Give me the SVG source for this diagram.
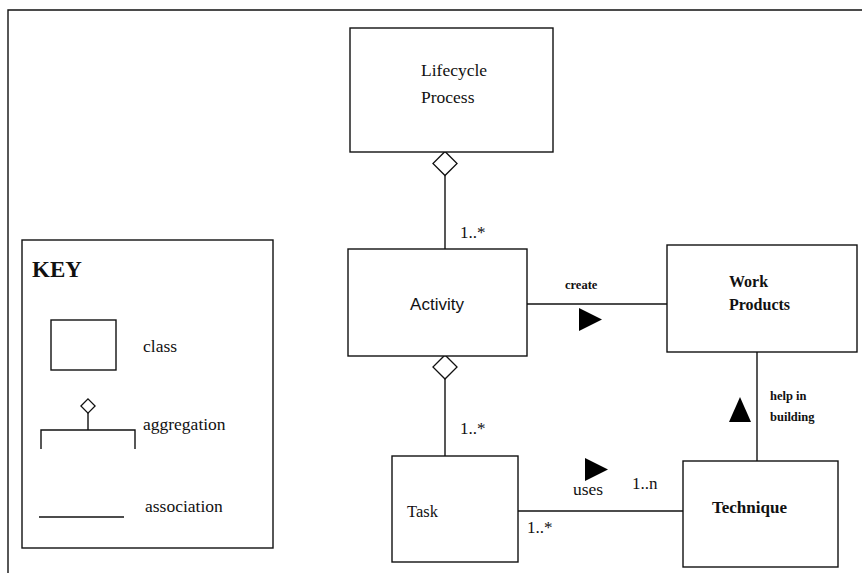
<svg xmlns="http://www.w3.org/2000/svg" width="862" height="573" viewBox="0 0 862 573">
<style>
.box{fill:#fff;stroke:#111;stroke-width:1.4}
.ln{fill:none;stroke:#111;stroke-width:1.4}
.dia{fill:#fff;stroke:#111;stroke-width:1.3}
.tri{fill:#000}
.t{font-family:"Liberation Serif","Times New Roman",serif;fill:#111}
.s{font-family:"Liberation Sans",Arial,sans-serif;fill:#111}
.k{font-size:17.5px}
.m{font-size:17px}
</style>
<rect width="862" height="573" fill="#fff"/>
<g id="frame"><path class="ln" d="M8,573 V10 H862"/></g>
<g id="key">
<rect class="box" x="22" y="240" width="251" height="308"/>
<text class="t" x="32" y="277" font-size="23" font-weight="bold">KEY</text>
<rect class="box" x="51" y="320" width="65" height="50"/>
<text class="t k" x="143" y="352">class</text>
<rect class="dia" x="83" y="401" width="10" height="10" transform="rotate(45 88 406)"/>
<path class="ln" d="M88,413 V430 M41,449 V430 H135 V449"/>
<text class="t k" x="143" y="430">aggregation</text>
<path class="ln" d="M39,517 H124"/>
<text class="t k" x="145" y="512">association</text>
</g>
<g id="connectors">
<path class="ln" d="M445,175 V249"/>
<rect class="dia" x="436.5" y="155" width="17" height="17" transform="rotate(45 445 163.5)"/>
<text class="t m" x="460" y="238">1..*</text>
<path class="ln" d="M445,378 V456"/>
<rect class="dia" x="436.5" y="358.5" width="17" height="17" transform="rotate(45 445 367)"/>
<text class="t m" x="460" y="434">1..*</text>
<path class="ln" d="M527,304 H667"/>
<text class="t" x="565" y="289" font-size="12.5" font-weight="bold">create</text>
<polygon class="tri" points="579,308 579,331 602,319.5"/>
<path class="ln" d="M757,352 V461"/>
<polygon class="tri" points="729,422 751,422 740,397"/>
<text class="t" x="770" y="400" font-size="12.5" font-weight="bold">help in</text>
<text class="t" x="770" y="421" font-size="12.5" font-weight="bold">building</text>
<path class="ln" d="M518,511 H683"/>
<polygon class="tri" points="585,458 585,481 608,469.5"/>
<text class="t k" x="573" y="495">uses</text>
<text class="t m" x="632" y="489">1..n</text>
<text class="t m" x="527" y="533">1..*</text>
</g>
<g id="lifecycle">
<rect class="box" x="350" y="28" width="203" height="124"/>
<text class="t k" x="421" y="76">Lifecycle</text>
<text class="t k" x="421" y="103">Process</text>
</g>
<g id="activity">
<rect class="box" x="348" y="249" width="179" height="107"/>
<text class="s" x="437" y="310" font-size="17" text-anchor="middle">Activity</text>
</g>
<g id="workproducts">
<rect class="box" x="667" y="245" width="190" height="107"/>
<text class="t" x="729" y="287" font-size="16" font-weight="bold">Work</text>
<text class="t" x="729" y="310" font-size="16" font-weight="bold">Products</text>
</g>
<g id="task">
<rect class="box" x="392" y="456" width="126" height="106"/>
<text class="t" x="407" y="517" font-size="16.5">Task</text>
</g>
<g id="technique">
<rect class="box" x="683" y="461" width="155" height="106"/>
<text class="t" x="712" y="513" font-size="17" font-weight="bold">Technique</text>
</g>
</svg>
